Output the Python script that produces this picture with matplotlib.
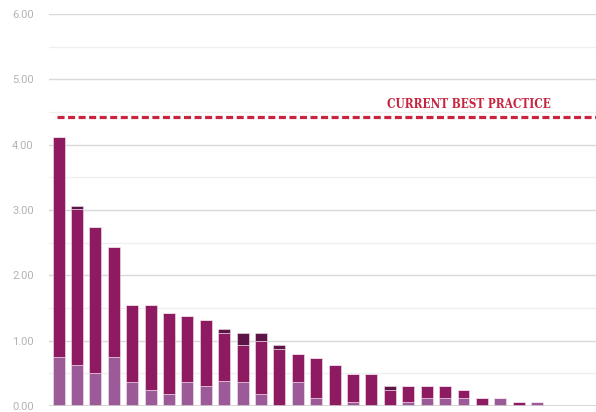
import matplotlib
matplotlib.use("Agg")
import matplotlib.pyplot as plt
import numpy as np

# data
n_slots = 30
light = [0.75, 0.63, 0.50, 0.75, 0.37, 0.245, 0.18, 0.37, 0.31, 0.38,
         0.37, 0.18, 0.0, 0.37, 0.12, 0.0, 0.06, 0.0, 0.0, 0.06,
         0.12, 0.12, 0.12, 0.0, 0.12, 0.0, 0.06]
total_mid = [4.12, 3.01, 2.74, 2.44, 1.55, 1.55, 1.43, 1.37, 1.31, 1.12,
             0.93, 0.99, 0.87, 0.80, 0.74, 0.62, 0.49, 0.49, 0.245, 0.30,
             0.30, 0.30, 0.245, 0.12, 0.12, 0.06, 0.06]
total = [4.12, 3.06, 2.74, 2.44, 1.55, 1.55, 1.43, 1.37, 1.31, 1.18,
         1.11, 1.11, 0.93, 0.80, 0.74, 0.62, 0.49, 0.49, 0.30, 0.30,
         0.30, 0.30, 0.245, 0.12, 0.12, 0.06, 0.06]
best_practice = 4.43
best_label = "CURRENT BEST PRACTICE"
yticks = [0, 1, 2, 3, 4, 5, 6]

light = np.array(light)
total_mid = np.array(total_mid)
total = np.array(total)
mid = total_mid - light
dark = total - total_mid
x = np.arange(len(light))

fig = plt.figure(figsize=(5.96, 4.12), dpi=100)
ax = fig.add_axes([49/596, 1-406/412, 1-49/596, (406-14)/412])

c_light = "#9c5b98"
c_mid = "#8e1a62"
c_dark = "#5e1447"
w = 0.65
ec = dict(edgecolor="#f3e6ef", linewidth=0.4)
ax.bar(x, light, w, color=c_light, zorder=3, **ec)
ax.bar(x, mid, w, bottom=light, color=c_mid, zorder=3, **ec)
ax.bar(x, dark, w, bottom=total_mid, color=c_dark, zorder=3, **ec)

ax.set_xlim(-0.52, 29.2)
ax.set_ylim(0, 6)
for v in np.arange(0.5, 6, 1.0):
    ax.axhline(v, color="#efefef", lw=0.9, zorder=1)
for v in yticks[1:]:
    ax.axhline(v, color="#d9d9d9", lw=1.0, zorder=1)
ax.axhline(0, color="#cfcfcf", lw=1.2, zorder=4)

ax.plot([-0.08, 29.2], [best_practice, best_practice], color="#c8243f", lw=2.3,
        dashes=(2.2, 1.1), solid_capstyle="butt", dash_capstyle="butt", zorder=5)
ax.text(17.85, 4.555, best_label, color="#c8243f", fontsize=8.5, fontweight="bold",
        family="DejaVu Serif", fontstretch="condensed", va="baseline", ha="left",
        zorder=6)

ax.set_yticks(yticks)
ax.set_yticklabels([f"{v:.2f}" for v in yticks], color="#b3b3b3", fontsize=8,
                   family="Roboto")
ax.tick_params(axis="y", length=0, pad=11)
ax.tick_params(axis="x", length=0, labelbottom=False)
for s in ax.spines.values():
    s.set_visible(False)
ax.set_facecolor("white")

fig.savefig("out.png", dpi=100)
